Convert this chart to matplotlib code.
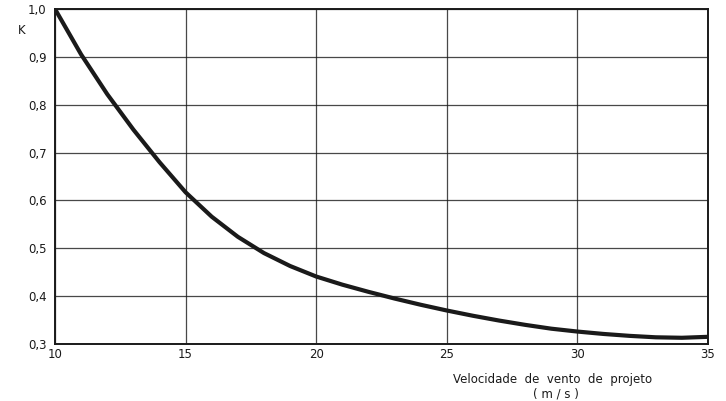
import numpy as np
import matplotlib
matplotlib.use("Agg")
import matplotlib.pyplot as plt

# Data
velocity = [10, 11, 12, 13, 14, 15, 16, 17, 18, 19, 20, 21, 22, 23, 24, 25,
            26, 27, 28, 29, 30, 31, 32, 33, 34, 35]
k_values = [1.000, 0.905, 0.822, 0.748, 0.680, 0.617, 0.566, 0.524, 0.490,
            0.463, 0.441, 0.424, 0.409, 0.395, 0.382, 0.370, 0.359, 0.349,
            0.340, 0.332, 0.326, 0.321, 0.317, 0.314, 0.313, 0.315]
x_ticks = [10, 15, 20, 25, 30, 35]
y_ticks = [0.3, 0.4, 0.5, 0.6, 0.7, 0.8, 0.9, 1.0]
y_tick_labels = ["0,3", "0,4", "0,5", "0,6", "0,7", "0,8", "0,9", "1,0"]

ink = "#1a1a1a"
plt.rcParams['font.family'] = ['DejaVu Sans']

fig = plt.figure(figsize=(7.26, 4.01), dpi=100)
ax = fig.add_axes([55/726, 1-344/401, 653/726, 335/401])

ax.plot(velocity, k_values, color=ink, lw=3.0, solid_capstyle='round',
        solid_joinstyle='round', zorder=3)

ax.set_xlim(10, 35)
ax.set_ylim(0.3, 1.0)
ax.set_xticks(x_ticks)
ax.set_xticklabels([str(v) for v in x_ticks])
ax.set_yticks(y_ticks)
ax.set_yticklabels(y_tick_labels)
ax.tick_params(length=0, labelsize=8.5, colors=ink, pad=3)
ax.tick_params(axis='y', pad=6)
ax.grid(True, color=ink, lw=0.9, alpha=0.8)
for s in ax.spines.values():
    s.set_color(ink)
    s.set_linewidth(1.4)

fig.text(18/726, 1-30/401, "K", fontsize=8.5, color=ink, ha='left', va='center')
fig.text(553/726, 1-380/401, "Velocidade  de  vento  de  projeto",
         fontsize=8.5, color=ink, ha='center', va='center')
fig.text(556/726, 1-394/401, "( m / s )", fontsize=8.5, color=ink,
         ha='center', va='center')

fig.savefig("out.png", dpi=100, facecolor='white')
